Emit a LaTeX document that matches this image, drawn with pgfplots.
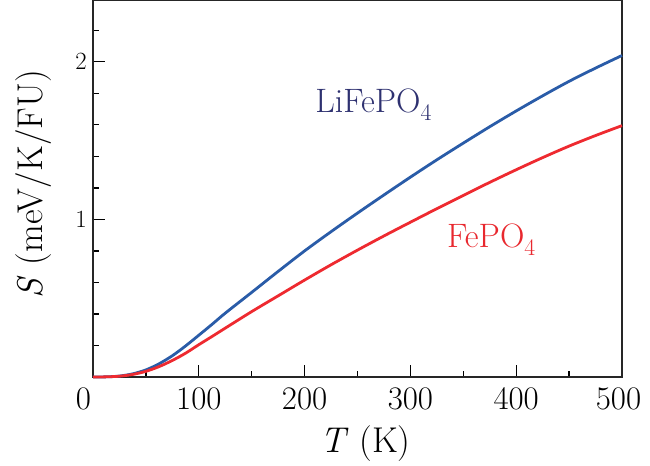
\documentclass[border=0pt]{standalone}
\usepackage{fontspec}
\usepackage{pgfplots}
\pgfplotsset{compat=1.18}
\definecolor{bluecurve}{HTML}{2A5CA8}
\definecolor{redcurve}{HTML}{EE2A30}
\definecolor{navytext}{HTML}{2E3170}
\definecolor{redtext}{HTML}{E8282E}
\begin{document}
\begin{tikzpicture}
\begin{axis}[
  scale only axis,
  width=529bp, height=377bp,
  xmin=0, xmax=500, ymin=0, ymax=2.392,
  xtick={0,100,...,500},
  xticklabels={0\hspace*{19bp},100,200,300,400,500\hspace*{7bp}},
  minor xtick={50,150,...,450},
  ytick={1,2},
  minor ytick={0.2,0.4,0.6,0.8,1.2,1.4,1.6,1.8,2.2},
  tick pos=left,
  tick align=inside,
  major tick length=12bp,
  minor tick length=6bp,
  every tick/.style={black, line width=1.3bp},
  axis line style={black!85, line width=1.4bp},
  tick label style={font=\fontsize{33}{38}\selectfont, inner sep=0pt},
  xticklabel style={anchor=center, yshift=-21.7bp},
  yticklabel style={anchor=east, xshift=-6bp},
  label style={font=\fontsize{36}{42}\selectfont, inner sep=0pt},
  xlabel={\textit{T} (K)},
  ylabel={\textit{S} (meV/K/FU)},
  xlabel style={at={(axis description cs:0.429,-0.2006)}, anchor=base west},
  ylabel style={at={(axis description cs:-0.0964,0.511)}, anchor=base},
  clip=false,
]
\addplot[bluecurve, line width=2.8bp, smooth, tension=0.5] coordinates {
(0,0) (12.5,0.001) (25,0.006) (37.5,0.02) (50,0.045) (62.5,0.084) (75,0.135) (87.5,0.197) (100,0.265) (112.5,0.334) (125,0.405) (150,0.537) (175,0.67) (200,0.80) (225,0.922) (250,1.04) (275,1.155) (300,1.268) (325,1.378) (350,1.484) (375,1.588) (400,1.688) (425,1.784) (450,1.876) (475,1.96) (500,2.04)
};
\addplot[redcurve, line width=2.8bp, smooth, tension=0.5] coordinates {
(0,0) (12.5,0.001) (25,0.005) (37.5,0.016) (50,0.036) (62.5,0.066) (75,0.105) (87.5,0.151) (100,0.205) (112.5,0.257) (125,0.31) (150,0.415) (175,0.515) (200,0.615) (225,0.712) (250,0.805) (275,0.895) (300,0.982) (325,1.068) (350,1.152) (375,1.235) (400,1.315) (425,1.392) (450,1.465) (475,1.532) (500,1.595)
};
\node[navytext, font=\fontsize{34}{40}\selectfont, anchor=base west, inner sep=0pt] at (axis cs:210,1.676) {LiFePO\textsubscript{4}};
\node[redtext, font=\fontsize{34}{40}\selectfont, anchor=base west, inner sep=0pt] at (axis cs:334.6,0.82) {FePO\textsubscript{4}};
\draw[black!50, line width=1bp] (axis description cs:0,1) -- (axis description cs:1,1);
\end{axis}
\pgfresetboundingbox
\path ([xshift=-93bp,yshift=-89bp]current axis.south west) rectangle ([xshift=28bp]current axis.north east);
\end{tikzpicture}
\end{document}
